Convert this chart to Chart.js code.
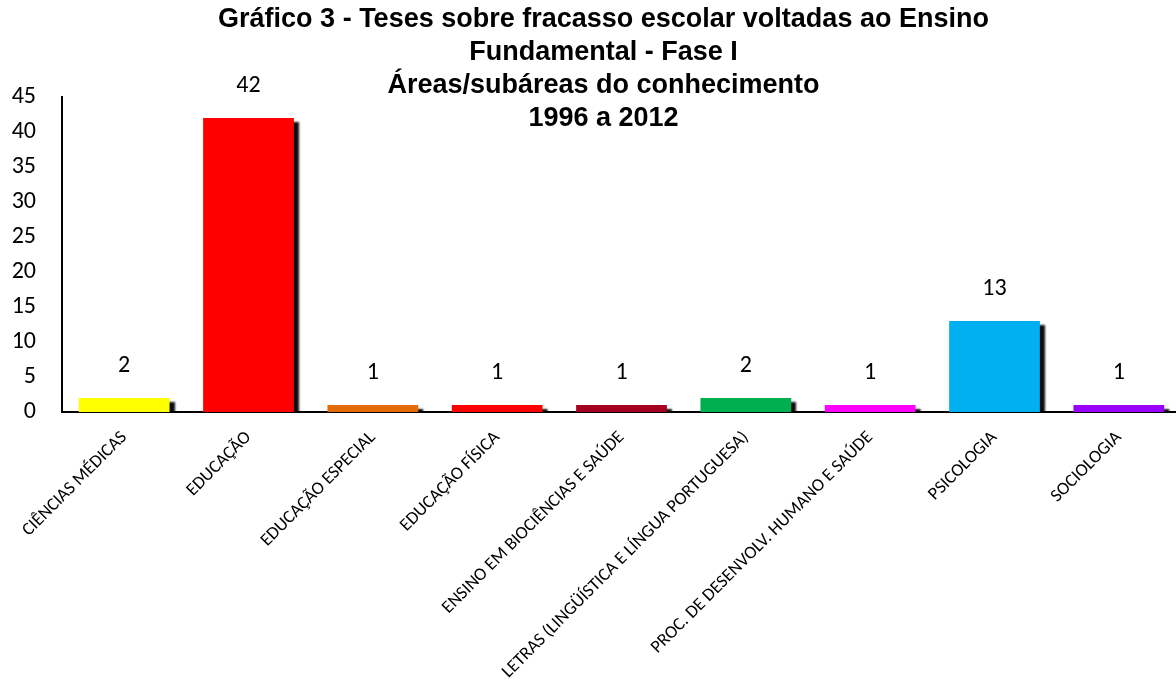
<!DOCTYPE html>
<html lang="pt-BR">
<head>
<meta charset="utf-8">
<title>Gráfico 3 - Teses sobre fracasso escolar</title>
<script src="https://cdn.jsdelivr.net/npm/chart.js@4.4.1/dist/chart.umd.min.js"></script>
<style>
  html, body { margin: 0; padding: 0; background: #ffffff; overflow: hidden; }
  #wrap { width: 1181px; height: 688px; }
</style>
</head>
<body>
<div id="wrap"><canvas id="chart" width="1181" height="688"></canvas></div>
<script>
// Áreas/subáreas do conhecimento
const categories = [
  'CIÊNCIAS MÉDICAS',
  'EDUCAÇÃO',
  'EDUCAÇÃO ESPECIAL',
  'EDUCAÇÃO FÍSICA',
  'ENSINO EM BIOCIÊNCIAS E SAÚDE',
  'LETRAS (LINGÜÍSTICA E LÍNGUA PORTUGUESA)',
  'PROC. DE DESENVOLV. HUMANO E SAÚDE',
  'PSICOLOGIA',
  'SOCIOLOGIA'
];

// Número de teses por área
const teses = [2, 42, 1, 1, 1, 2, 1, 13, 1];

const barColors = [
  '#FFFF00', '#FF0000', '#E36C09', '#FF0000', '#A50021',
  '#00B050', '#FF00FF', '#00B0F0', '#9900FF'
];

const yTickValues = [0, 5, 10, 15, 20, 25, 30, 35, 40, 45];

const titleLines = [
  'Gráfico 3 - Teses sobre fracasso escolar voltadas ao Ensino',
  'Fundamental - Fase I',
  'Áreas/subáreas do conhecimento',
  '1996 a 2012'
];

const labelFont = 'Carlito, Lato, "Open Sans", sans-serif';

// Centre the title a little to the right of the canvas middle
const titleShift = {
  id: 'titleShift',
  afterLayout(chart) {
    const tb = chart.titleBlock;
    if (tb) { tb.left += 26; }
  }
};

// Drop shadow behind the bars, then the value printed above each bar
const barShadowAndValues = {
  id: 'barShadowAndValues',
  beforeDatasetsDraw(chart) {
    const ctx = chart.ctx;
    ctx.save();
    ctx.shadowColor = 'rgba(0,0,0,0.95)';
    ctx.shadowOffsetX = 5;
    ctx.shadowOffsetY = 4;
    ctx.shadowBlur = 2;
  },
  afterDatasetsDraw(chart) {
    const ctx = chart.ctx;
    ctx.restore();
    ctx.save();
    ctx.font = '24px ' + labelFont;
    ctx.fillStyle = '#000000';
    ctx.textAlign = 'center';
    ctx.textBaseline = 'middle';
    const meta = chart.getDatasetMeta(0);
    meta.data.forEach((bar, i) => {
      ctx.fillText(String(chart.data.datasets[0].data[i]), bar.x, bar.y - 32);
    });
    ctx.restore();
  }
};

new Chart(document.getElementById('chart'), {
  type: 'bar',
  data: {
    labels: categories,
    datasets: [{
      data: teses,
      backgroundColor: barColors,
      borderWidth: 0,
      categoryPercentage: 1,
      barPercentage: 0.73
    }]
  },
  options: {
    responsive: false,
    animation: false,
    devicePixelRatio: 1,
    layout: { padding: { left: 0, right: 0, top: 0, bottom: 0 } },
    plugins: {
      legend: { display: false },
      tooltip: { enabled: false },
      title: {
        display: true,
        text: titleLines,
        color: '#000000',
        font: { family: '"Liberation Sans", Arial, sans-serif', size: 27, weight: 'bold', lineHeight: '33px' },
        padding: { top: 3.5, bottom: -38.5 }
      }
    },
    scales: {
      x: {
        z: 1,
        grid: { display: false, drawTicks: false },
        border: { display: true, color: '#000000', width: 2 },
        ticks: {
          color: '#000000',
          font: { family: labelFont, size: 18 },
          minRotation: 45,
          maxRotation: 45,
          autoSkip: false,
          padding: 15
        },
        afterFit(scale) { scale.height = 276; }
      },
      y: {
        min: 0,
        max: 45,
        grid: { display: false, drawTicks: false },
        border: { display: true, color: '#000000', width: 2 },
        ticks: {
          color: '#000000',
          font: { family: labelFont, size: 24 },
          padding: 26
        },
        afterBuildTicks(scale) { scale.ticks = yTickValues.map(v => ({ value: v })); },
        afterFit(scale) { scale.width = 62; }
      }
    }
  },
  plugins: [titleShift, barShadowAndValues]
});
</script>
</body>
</html>
